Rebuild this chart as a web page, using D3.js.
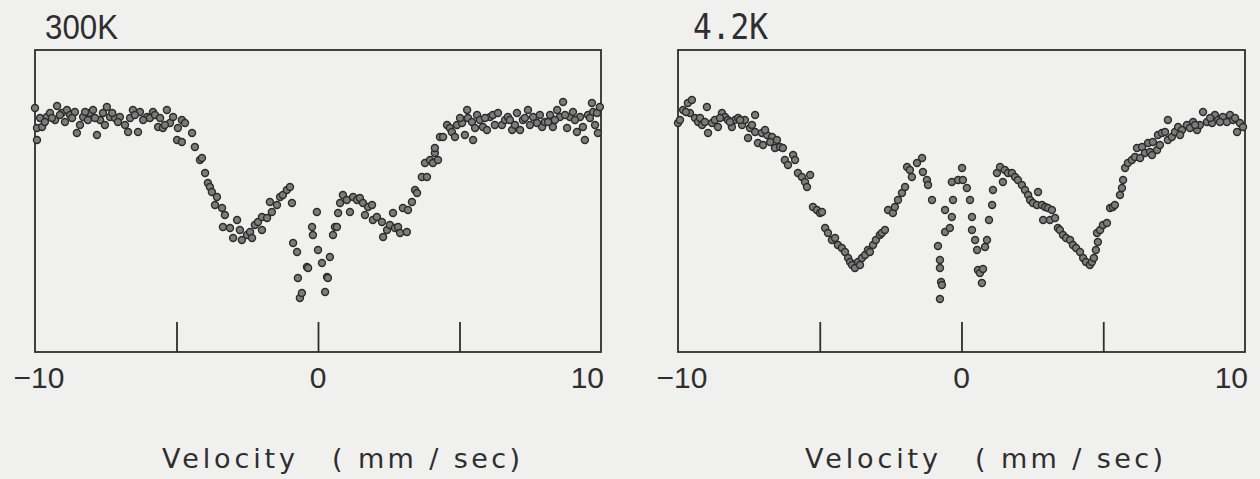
<!DOCTYPE html>
<html>
<head>
<meta charset="utf-8">
<script src="https://cdn.jsdelivr.net/npm/d3@7"></script>
<style>
  html, body { margin: 0; padding: 0; background: #f0f0ee; }
  svg { display: block; }
  text { fill: #2e2e2e; }
</style>
</head>
<body>
<svg id="chart" width="1260" height="479"></svg>
<script>
// velocity (mm/sec) and relative transmission (%)
const vel300K = [-10.00,-9.93,-9.93,-9.82,-9.75,-9.58,-9.47,-9.29,-9.22,-9.05,-8.87,-8.76,-8.59,-8.52,-8.41,-8.30,-8.06,-7.95,-7.81,-7.70,-7.60,-7.46,-7.35,-7.17,-7.00,-6.82,-6.71,-6.54,-6.36,-6.29,-6.04,-5.83,-5.65,-5.48,-5.34,-5.23,-5.12,-4.98,-4.95,-4.81,-4.81,-4.70,-4.45,-4.35,-4.17,-4.10,-3.99,-3.89,-3.82,-3.75,-3.64,-3.57,-3.39,-3.29,-3.36,-3.11,-3.00,-2.86,-2.76,-2.69,-2.51,-2.40,-2.33,-2.23,-2.12,-1.98,-1.98,-1.80,-1.70,-1.63,-1.45,-1.34,-1.24,-1.10,-0.99,-0.92,-0.88,-0.74,-0.71,-0.64,-0.57,-0.39,-0.35,-0.21,-0.18,-0.04,0.00,0.14,0.25,0.32,0.35,0.42,0.53,0.60,0.67,0.71,0.78,0.88,1.02,1.13,1.24,1.38,1.48,1.59,1.66,1.77,1.91,1.94,2.08,2.26,2.30,2.44,2.54,2.65,2.72,2.83,2.90,3.00,3.14,3.18,3.32,3.43,3.50,3.67,3.85,3.78,3.96,4.06,4.13,4.13,4.24,4.31,4.42,4.56,4.66,4.73,4.84,4.91,5.09,5.19,5.27,5.30,5.44,5.48,5.62,5.72,5.83,5.97,6.08,6.18,6.36,6.50,6.61,6.71,6.86,7.03,7.14,7.24,7.42,7.60,7.74,7.92,8.02,8.20,8.30,8.45,8.55,8.66,8.80,8.90,9.01,9.15,9.26,9.36,9.43,9.54,9.68,9.72,9.86,9.89,9.96,
    -9.65,-9.40,-9.12,-8.94,-8.69,-8.23,-8.13,-7.88,-7.53,-7.27,-7.07,-6.64,-6.47,-6.18,-5.94,-5.76,-5.58,-5.41,
    5.02,5.55,5.90,6.25,6.78,6.96,7.31,7.49,7.84,8.13,8.37,8.73,9.08,9.61,9.79];
const tr300K = [99.9,97.9,96.7,98.9,98.0,99.0,99.4,98.7,100.1,99.4,99.7,99.2,99.5,97.4,98.2,99.0,99.4,99.7,97.2,98.7,99.4,100.0,99.0,98.9,99.0,98.2,97.5,99.7,97.5,99.5,99.0,99.5,98.0,97.9,99.7,98.4,99.0,96.7,97.9,98.7,96.5,98.4,97.4,96.0,94.7,94.9,93.4,92.4,92.0,91.5,90.2,91.0,89.9,89.2,88.0,87.9,86.9,88.7,87.7,86.7,87.2,87.5,86.9,88.2,88.5,87.7,89.0,88.9,90.5,89.5,90.2,91.0,91.2,91.7,92.0,90.4,86.4,85.5,82.9,80.9,81.4,84.0,83.9,88.0,87.2,89.5,85.7,84.4,81.5,83.0,82.9,85.0,87.2,88.0,88.0,89.4,90.4,91.2,90.7,89.5,91.0,90.7,90.9,90.4,89.2,90.0,90.2,88.7,89.0,88.5,87.0,87.7,88.2,89.4,87.9,88.0,87.4,89.9,87.5,89.7,90.5,91.7,91.4,93.0,93.0,94.4,94.7,94.4,95.4,95.9,94.7,97.0,97.0,98.2,97.9,97.5,97.0,98.2,98.4,97.2,99.7,98.9,98.5,96.7,99.2,98.7,98.0,97.7,99.0,99.2,99.4,98.2,98.7,99.0,97.7,99.4,97.7,98.7,99.7,99.0,98.4,98.0,98.5,99.2,98.0,99.7,99.0,100.5,97.9,99.0,99.5,97.5,99.0,98.0,96.7,99.2,100.4,99.5,99.4,97.4,100.0,
    98.5,98.9,99.2,98.5,98.9,99.5,98.7,98.9,98.2,99.4,98.5,98.9,99.2,98.7,98.9,99.2,98.9,98.2,
    98.9,97.9,98.9,98.2,98.7,98.2,98.9,98.2,99.2,98.5,98.7,99.2,98.7,98.9,98.2];

const vel42K = [-10.00,-9.93,-9.82,-9.65,-9.58,-9.51,-9.40,-9.29,-9.15,-8.98,-8.94,-8.80,-8.70,-8.59,-8.45,-8.34,-8.24,-8.10,-7.99,-7.88,-7.74,-7.64,-7.53,-7.46,-7.28,-7.28,-7.18,-7.04,-7.00,-6.86,-6.68,-6.58,-6.51,-6.40,-6.30,-6.23,-6.12,-5.94,-5.87,-5.77,-5.63,-5.52,-5.45,-5.34,-5.24,-5.10,-4.99,-4.92,-4.81,-4.71,-4.57,-4.46,-4.36,-4.22,-4.11,-4.00,-3.93,-3.86,-3.76,-3.65,-3.58,-3.51,-3.40,-3.30,-3.23,-3.12,-3.02,-2.88,-2.81,-2.70,-2.59,-2.42,-2.35,-2.24,-2.10,-1.99,-1.92,-1.82,-1.75,-1.57,-1.39,-1.36,-1.22,-1.18,-1.04,-0.83,-0.76,-0.76,-0.72,-0.69,-0.76,-0.58,-0.58,-0.41,-0.34,-0.30,-0.34,-0.12,0.02,0.05,0.19,0.30,0.37,0.37,0.48,0.55,0.58,0.65,0.72,0.76,0.83,0.90,0.97,1.08,1.11,1.25,1.36,1.46,1.53,1.64,1.78,1.89,1.99,2.13,2.24,2.35,2.42,2.52,2.66,2.70,2.84,2.88,2.95,3.05,3.12,3.19,3.30,3.40,3.47,3.58,3.69,3.83,3.93,4.04,4.18,4.29,4.39,4.53,4.60,4.67,4.74,4.78,4.81,4.89,4.99,5.13,5.24,5.34,5.41,5.59,5.66,5.70,5.77,5.87,6.01,6.12,6.19,6.37,6.47,6.58,6.65,6.75,6.90,6.93,7.07,7.18,7.28,7.28,7.42,7.53,7.64,7.78,7.95,8.06,8.17,8.31,8.41,8.52,8.66,8.84,8.94,9.05,9.22,9.36,9.47,9.58,9.72,9.82,9.93,
    -9.72,-9.22,-9.05,-8.52,-8.17,-7.81,-7.39,-6.93,-6.75,
    6.30,6.72,7.00,7.71,8.24,8.77,9.12,9.65];
const tr42K = [98.4,98.7,99.7,100.4,99.4,100.7,98.9,98.5,98.2,100.0,97.4,98.4,98.7,98.0,99.4,99.0,98.7,98.0,98.7,98.9,98.2,98.7,96.9,97.9,99.2,97.5,96.4,97.4,96.2,97.2,97.0,95.9,96.7,96.0,95.9,94.7,94.2,95.2,94.7,93.4,93.0,92.5,92.0,93.2,90.0,89.7,89.4,89.5,87.9,87.4,86.7,86.9,86.2,85.9,85.5,84.9,84.5,84.2,83.9,84.5,84.2,84.9,85.2,85.7,85.5,86.2,86.7,87.2,87.4,87.7,89.7,89.4,90.0,90.7,91.4,92.0,94.0,93.7,93.0,94.4,94.9,93.5,92.7,92.2,90.7,86.1,84.7,83.9,82.5,82.2,80.8,89.7,87.5,87.9,89.0,90.7,92.5,92.7,93.9,92.7,91.9,90.7,89.0,87.7,86.7,85.7,83.7,83.4,82.4,83.8,86.0,86.7,88.7,90.2,91.7,93.4,94.0,92.5,93.7,93.4,93.4,93.0,92.7,92.2,91.7,91.2,90.7,90.4,90.2,91.5,90.2,88.7,90.0,89.9,88.7,89.7,88.9,87.9,87.7,87.2,86.9,86.7,86.2,85.9,85.5,84.9,84.5,84.2,84.5,84.9,85.7,87.4,86.5,87.7,88.2,88.4,89.9,90.0,90.2,91.2,91.9,92.7,93.9,94.4,94.7,95.0,95.9,96.0,95.4,96.4,95.5,96.5,95.7,97.2,97.4,97.5,98.7,96.7,97.0,97.5,98.0,97.7,98.2,97.9,98.5,97.7,98.2,99.5,98.5,98.4,99.2,98.7,99.0,98.5,99.2,98.7,97.5,98.4,98.0,
    99.5,98.9,98.5,98.9,98.5,98.7,98.2,97.7,96.5,
    94.9,95.2,96.2,97.2,98.2,98.9,98.5,98.9];

const titles = ['300K', '4.2K'];
const tickVals = [-5, 0, 5];
const tickLabelVals = [-10, 0, 10];
const tickLabels = ['\u221210', '0', '10'];
const xDomain = [-10, 10];
const yDomain = [75.5, 105.7];

const panels = [
    { title: titles[0], vel: vel300K, tr: tr300K, left: 35, right: 601 },
    { title: titles[1], vel: vel42K, tr: tr42K, left: 678, right: 1245 }
];

const frameTop = 50, frameBottom = 352;
const svg = d3.select('#chart');
svg.append('rect').attr('width', 1260).attr('height', 479).attr('fill', '#f0f0ee');

panels.forEach((p, pi) => {
    const x = d3.scaleLinear().domain(xDomain).range([p.left, p.right]);
    const y = d3.scaleLinear().domain(yDomain).range([frameBottom, frameTop]);
    const g = svg.append('g').attr('class', 'panel');

    // frame
    g.append('rect')
        .attr('x', p.left).attr('y', frameTop)
        .attr('width', p.right - p.left).attr('height', frameBottom - frameTop)
        .attr('fill', 'none').attr('stroke', '#2e2e2e').attr('stroke-width', 1.8);

    // inward ticks on the velocity axis
    const axis = d3.axisBottom(x).tickValues(tickVals).tickSize(-30).tickFormat('');
    const ax = g.append('g').attr('transform', `translate(0,${frameBottom})`).call(axis);
    ax.select('.domain').remove();
    ax.selectAll('line').attr('stroke', '#2e2e2e').attr('stroke-width', 1.8);

    g.selectAll('.ticklabel').data(tickLabelVals).join('text')
        .attr('class', 'ticklabel')
        .attr('x', (d, i) => i == 0 ? x(d) + 4 : (i == 2 ? p.right + 3 : x(d)))
        .attr('y', 388)
        .attr('text-anchor', (d, i) => i == 2 ? 'end' : 'middle')
        .attr('font-family', 'Liberation Sans, Arial, sans-serif')
        .attr('font-size', 30)
        .text((d, i) => tickLabels[i]);

    // title
    g.append('text')
        .attr('x', p.left + (pi == 0 ? 10 : 15)).attr('y', 39)
        .attr('font-family', pi == 0 ? 'Liberation Sans, sans-serif' : 'DejaVu Sans Mono, monospace')
        .attr('font-size', 35)
        .attr('textLength', pi == 0 ? 73 : 75)
        .attr('lengthAdjust', 'spacingAndGlyphs')
        .text(p.title);

    // axis label
    const lab = g.append('text')
        .attr('y', 468)
        .attr('font-family', 'DejaVu Sans, sans-serif')
        .attr('font-size', 27);
    lab.append('tspan').attr('x', p.left + 127).attr('textLength', 133).attr('lengthAdjust', 'spacing').text('Velocity');
    lab.append('tspan').attr('x', p.left + 297).attr('textLength', 188).attr('lengthAdjust', 'spacing').text('( mm / sec)');

    // data points
    const pts = p.vel.map((v, i) => ({ v: v, t: p.tr[i] }));
    g.selectAll('.pt').data(pts).join('circle')
        .attr('class', 'pt')
        .attr('cx', d => x(d.v))
        .attr('cy', d => y(d.t))
        .attr('r', 3.5)
        .attr('fill', '#7c7c7c')
        .attr('stroke', '#2c2c2c')
        .attr('stroke-width', 1.4);
});
</script>
</body>
</html>
